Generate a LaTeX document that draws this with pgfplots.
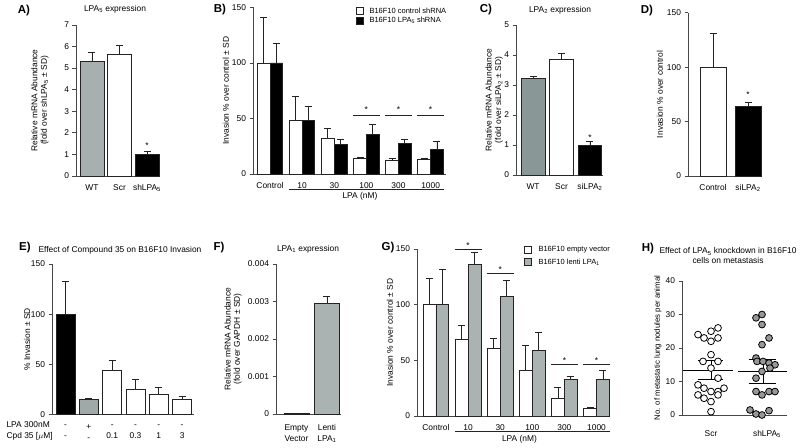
\documentclass[border=0pt]{standalone}
\usepackage{fontspec}
\setmainfont{Liberation Sans}
\usepackage{pgfplots}
\pgfplotsset{compat=1.18}

\definecolor{edge}{RGB}{35,35,35}
\definecolor{axgray}{RGB}{70,70,70}
\definecolor{grayA}{RGB}{168,175,175}
\definecolor{grayC}{RGB}{137,152,150}
\definecolor{grayE}{RGB}{160,168,168}
\definecolor{grayG}{RGB}{170,178,178}
\definecolor{grayH}{RGB}{150,152,152}

\newcommand{\tf}{\fontsize{8.4}{9.6}\selectfont}
\newcommand{\lf}{\fontsize{8.4}{9.4}\selectfont}
\newcommand{\legf}{\fontsize{7.5}{8.5}\selectfont}
\newcommand{\pl}{\fontsize{11.5}{12}\selectfont\bfseries}

\pgfplotsset{
  panel/.style={
    scale only axis, anchor=south west,
    axis lines*=left,
    axis line style={-, line width=0.9pt, draw=axgray},
    tick align=outside,
    ytick style={line width=0.9pt, draw=axgray},
    major tick length=3.5pt,
    xtick style={draw=none},
    tick label style={font=\tf},
    xticklabel style={yshift=-1.5pt},
    label style={font=\lf},
    ylabel style={anchor=center, align=center},
    /pgf/number format/assume math mode=true,
    clip=false, ymin=0,
  },
  mybar/.style={ybar, bar shift=0, fill=#1, draw=edge, line width=0.8pt},
  errb/.style={error bars/.cd, y dir=plus, y explicit,
    error bar style={line width=0.8pt, draw=edge},
    error mark options={rotate=90, line width=0.8pt, mark size=3.5pt, draw=edge}},
}
\tikzset{sigstar/.style={font=\tf, inner sep=0pt, yshift=-1.5pt},
  sig/.style={line width=0.8pt, draw=edge}}

\begin{document}
\begin{tikzpicture}[x=1pt,y=1pt]
\useasboundingbox (0,0) rectangle (800,447);

% A
\begin{axis}[panel, at={(76pt,271pt)}, width=84pt, height=151pt,
  xmin=-0.58, xmax=2.47, ymax=7, ytick={0,1,...,7},
  xtick={0,1,2}, xticklabels={WT,Scr,shLPA\textsubscript{5}},
  bar width=0.87,
  ylabel={Relative mRNA Abundance\\(fold over shLPA\textsubscript{5} ± SD)},
  ylabel style={at={(axis description cs:-0.43,0.5)}}]
\addplot[mybar=grayA, errb] coordinates {(0,5.3) +- (0,0.42)};
\addplot[mybar=white, errb] coordinates {(1,5.65) +- (0,0.42)};
\addplot[mybar=black, errb] coordinates {(2,1.0) +- (0,0.15)};
\node[sigstar] at (axis cs:2,1.48) {*};
\end{axis}

% B  (white bars at group-0.198, black bars at group+0.198)
\begin{axis}[panel, at={(253pt,273pt)}, width=193pt, height=166.5pt,
  xmin=-0.53, xmax=5.48, ymax=150, ytick={0,50,100,150},
  xtick={0,...,5}, xticklabels={Control,10,30,100,300,1000},
  bar width=0.396,
  ylabel={Invasion \% over control ± SD},
  ylabel style={at={(axis description cs:-0.14,0.5)}}]
\addplot[mybar=white, errb] coordinates {
  (-0.198,100) +- (0,41) (0.802,48) +- (0,22) (1.802,32) +- (0,9)
  (2.802,14) +- (0,1) (3.802,12) +- (0,2) (4.802,13) +- (0,1)};
\addplot[mybar=black, errb] coordinates {
  (0.198,100) +- (0,18) (1.198,48) +- (0,13) (2.198,27) +- (0,4)
  (3.198,36) +- (0,9) (4.198,27.5) +- (0,3.5) (5.198,22) +- (0,7)};
\draw[sig] (axis cs:2.58,53) -- (axis cs:3.42,53);
\draw[sig] (axis cs:3.58,53) -- (axis cs:4.42,53);
\draw[sig] (axis cs:4.58,53) -- (axis cs:5.42,53);
\node[sigstar] at (axis cs:3,59) {*};
\node[sigstar] at (axis cs:4,59) {*};
\node[sigstar] at (axis cs:5,59) {*};
\draw[sig] (axis cs:0.6,-13.5) -- (axis cs:5.42,-13.5);
\node[font=\lf] at (axis cs:2.8,-20.5) {LPA (nM)};
\end{axis}

% C
\begin{axis}[panel, at={(516pt,272pt)}, width=87pt, height=150pt,
  xmin=-0.6, xmax=2.46, ymax=5, ytick={0,1,...,5},
  xtick={0,1,2}, xticklabels={WT,Scr,siLPA\textsubscript{2}},
  bar width=0.84,
  ylabel={Relative mRNA Abundance\\(fold over siLPA\textsubscript{2} ± SD)},
  ylabel style={at={(axis description cs:-0.25,0.5)}}]
\addplot[mybar=grayC, errb] coordinates {(0,3.22) +- (0,0.06)};
\addplot[mybar=white, errb] coordinates {(1,3.87) +- (0,0.17)};
\addplot[mybar=black, errb] coordinates {(2,1.0) +- (0,0.13)};
\node[sigstar] at (axis cs:2,1.3) {*};
\end{axis}

% D
\begin{axis}[panel, at={(688pt,271pt)}, width=74pt, height=163.3pt,
  xmin=-0.714, xmax=1.4, ymax=150, ytick={0,50,100,150},
  xtick={0,1}, xticklabels={Control,siLPA\textsubscript{2}},
  bar width=0.74,
  ylabel={Invasion \% over control},
  ylabel style={at={(axis description cs:-0.38,0.5)}}]
\addplot[mybar=white, errb] coordinates {(0,100) +- (0,31)};
\addplot[mybar=black, errb] coordinates {(1,64) +- (0,4)};
\node[sigstar] at (axis cs:1,76) {*};
\end{axis}

% E
\begin{axis}[panel, at={(52pt,32.5pt)}, width=142pt, height=150.5pt,
  xmin=-0.58, xmax=5.51, ymax=150, ytick={0,50,100,150},
  xtick={0,...,5},
  xticklabels={{-\\-},{+\\-},{-\\0.1},{-\\0.3},{-\\1},{-\\3}},
  xticklabel style={align=center, font=\fontsize{8.4}{11}\selectfont, yshift=-2pt},
  bar width=0.815,
  ylabel={\% Invasion ± SD},
  ylabel style={at={(axis description cs:-0.176,0.5)}}]
\addplot[mybar=black, errb] coordinates {(0,100) +- (0,33)};
\addplot[mybar=grayE, errb] coordinates {(1,15) +- (0,1.5)};
\addplot[mybar=white, errb] coordinates {
  (2,44) +- (0,10) (3,25) +- (0,10) (4,20) +- (0,7) (5,15) +- (0,3)};
\end{axis}

% F
\begin{axis}[panel, at={(276pt,33pt)}, width=65pt, height=150pt,
  xmin=-0.672, xmax=1.46, ymax=0.004,
  ytick={0,0.001,0.002,0.003,0.004},
  yticklabels={0,0.001,0.002,0.003,0.004}, scaled y ticks=false,
  xtick={0,1}, xticklabels={{Empty\\Vector},{Lenti\\LPA\textsubscript{1}}},
  xticklabel style={align=center, font=\fontsize{8.4}{11}\selectfont, yshift=-2pt},
  bar width=0.82,
  ylabel={Relative mRNA Abundance\\(fold over GAPDH ± SD)},
  ylabel style={at={(axis description cs:-0.66,0.5)}}]
\addplot[mybar=grayG] coordinates {(0,0.00002)};
\addplot[mybar=grayG, errb] coordinates {(1,0.00296) +- (0,0.00017)};
\end{axis}

% G  (white bars at group-0.2, gray bars at group+0.2)
\begin{axis}[panel, at={(417pt,31pt)}, width=193pt, height=167pt,
  xmin=-0.59, xmax=5.42, ymax=150, ytick={0,50,100,150},
  xtick={0,...,5}, xticklabels={Control,10,30,100,300,1000},
  bar width=0.40,
  ylabel={Invasion \% over control ± SD},
  ylabel style={at={(axis description cs:-0.14,0.5)}}]
\addplot[mybar=white, errb] coordinates {
  (-0.2,100) +- (0,24) (0.8,69) +- (0,12) (1.8,61) +- (0,9)
  (2.8,41) +- (0,22) (3.8,16) +- (0,10) (4.8,7) +- (0,1)};
\addplot[mybar=grayG, errb] coordinates {
  (0.2,100) +- (0,32) (1.2,136) +- (0,11) (2.2,107) +- (0,15)
  (3.2,59) +- (0,16) (4.2,33) +- (0,3) (5.2,33) +- (0,8)};
\draw[sig] (axis cs:0.58,150) -- (axis cs:1.42,150);
\draw[sig] (axis cs:1.58,128) -- (axis cs:2.42,128);
\draw[sig] (axis cs:3.58,46.7) -- (axis cs:4.42,46.7);
\draw[sig] (axis cs:4.58,46.7) -- (axis cs:5.42,46.7);
\node[sigstar] at (axis cs:1,154) {*};
\node[sigstar] at (axis cs:2,133) {*};
\node[sigstar] at (axis cs:4,51) {*};
\node[sigstar] at (axis cs:5,51) {*};
\draw[sig] (axis cs:0.6,-14.1) -- (axis cs:5.42,-14.1);
\node[font=\lf] at (axis cs:2.6,-21) {LPA (nM)};
\end{axis}

% H
\begin{axis}[panel, at={(682pt,32pt)}, width=105pt, height=134pt,
  xmin=0, xmax=105, ymax=40, ytick={0,10,...,40},
  xtick={29,85}, xticklabels={Scr,shLPA\textsubscript{5}},
  xticklabel style={yshift=-7pt},
  ylabel={No. of metastatic lung nodules per animal},
  ylabel style={font=\fontsize{7.8}{8.5}\selectfont, at={(axis description cs:-0.23,0.5)}}]
\addplot[only marks, mark=*, mark size=3.4pt,
  mark options={fill=white, draw=black, line width=0.8pt}] coordinates {
  (36,26) (29,25) (16,24) (22,23) (36,23) (29,22) (29,18) (21,16) (36,16)
  (29,14) (36,11) (16,9) (22,8) (42,8) (29,7) (36,7) (16,6) (36,6)
  (22,5) (29,4) (29,1)};
\addplot[only marks, mark=*, mark size=3.4pt,
  mark options={fill=grayH, draw=black, line width=0.8pt}] coordinates {
  (80,30) (74,29) (80,27) (87,23) (80,21) (74,17) (75,16) (81,16) (87,15.5)
  (93,15) (88,14) (80,13) (74,11) (74,7) (80,6) (87,7) (93,7)
  (68,1.5) (74,0.3) (80,0) (87,1.3)};
\addplot[black, line width=1pt, mark=none] coordinates {(1,13.2) (51,13.2)};
\addplot[black, line width=1pt, mark=none] coordinates {(16,16.3) (41,16.3)};
\addplot[black, line width=1pt, mark=none] coordinates {(16,10.6) (41,10.6)};
\addplot[black, line width=1pt, mark=none] coordinates {(29,10.6) (29,16.3)};
\addplot[black, line width=1pt, mark=none] coordinates {(56,12.9) (105,12.9)};
\addplot[black, line width=1pt, mark=none] coordinates {(67,16.5) (94,16.5)};
\addplot[black, line width=1pt, mark=none] coordinates {(67,9.4) (94,9.4)};
\addplot[black, line width=1pt, mark=none] coordinates {(81,9.4) (81,16.5)};
\end{axis}

% titles
\node[font=\lf] at (115,438) {LPA\textsubscript{5} expression};
\node[font=\lf] at (560,437) {LPA\textsubscript{2} expression};
\node[font=\lf] at (120,197) {Effect of Compound 35 on B16F10 Invasion};
\node[font=\lf] at (308,198) {LPA\textsubscript{1} expression};
\node[font=\lf, align=center] at (728,191.5) {Effect of LPA\textsubscript{5} knockdown in B16F10\\cells on metastasis};

% panel letters
\node[font=\pl] at (24,436) {A)};
\node[font=\pl] at (220,437) {B)};
\node[font=\pl] at (486,437) {C)};
\node[font=\pl] at (647,436) {D)};
\node[font=\pl] at (25,199) {E)};
\node[font=\pl] at (219,199) {F)};
\node[font=\pl] at (388,199) {G)};
\node[font=\pl] at (648,198) {H)};

% legends
\draw[fill=white, draw=edge, line width=0.7pt] (356,433) rectangle (363,440);
\node[font=\legf, anchor=west] at (366,436.5) {B16F10 control shRNA};
\draw[fill=black, draw=edge, line width=0.7pt] (356,423) rectangle (363,430);
\node[font=\legf, anchor=west] at (366,426.5) {B16F10 LPA\textsubscript{5} shRNA};
\draw[fill=white, draw=edge, line width=0.7pt] (524.5,193.5) rectangle (531.5,200.5);
\node[font=\legf, anchor=west] at (535,197) {B16F10 empty vector};
\draw[fill=grayG, draw=edge, line width=0.7pt] (524.5,181.5) rectangle (531.5,188.5);
\node[font=\legf, anchor=west] at (535,185) {B16F10 lenti LPA\textsubscript{1}};

% E row headers
\node[font=\tf, anchor=west] at (3,22) {LPA 300nM};
\node[font=\tf, anchor=west] at (3,11) {Cpd 35 [$\mu$M]};
\end{tikzpicture}
\end{document}
